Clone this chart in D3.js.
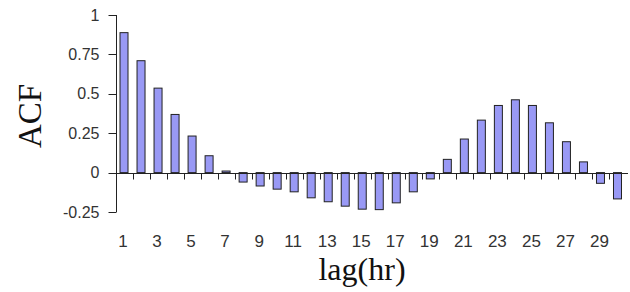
<!DOCTYPE html>
<html lang="en">
<head>
  <meta charset="UTF-8">
  <script src="https://d3js.org/d3.v7.min.js"></script>
  <style>
    body { margin: 0; background: #fff; overflow: hidden; }
    .tick-label { font-family: "Liberation Sans", Arial, sans-serif; fill: #333; }
    .title { font-family: "Liberation Serif", "Times New Roman", serif; fill: #111; }
  </style>
</head>
<body>
<script>
  // lag in hours and autocorrelation values
  const lags = d3.range(1, 31);
  const acf = [0.888, 0.71, 0.536, 0.369, 0.232, 0.107, 0.01, -0.06, -0.085, -0.105,
               -0.122, -0.16, -0.185, -0.213, -0.232, -0.235, -0.192, -0.122, -0.04, 0.084,
               0.213, 0.333, 0.426, 0.462, 0.426, 0.316, 0.196, 0.068, -0.068, -0.167];
  const yTicks = [-0.25, 0, 0.25, 0.5, 0.75, 1];
  const xLabels = lags.filter(d => d % 2 === 1);

  const width = 630, height = 292;
  const svg = d3.select("body").append("svg")
    .attr("width", width)
    .attr("height", height);

  const x = d3.scaleBand().domain(lags).range([115.5, 626]).paddingInner(0);
  const y = d3.scaleLinear().domain([-0.25, 1]).range([212, 15]);
  const barW = 8;

  // bars
  svg.append("g")
    .selectAll("rect")
    .data(lags)
    .enter().append("rect")
    .attr("x", (d, i) => x(d) + x.bandwidth() / 2 - barW / 2)
    .attr("y", (d, i) => y(Math.max(0, acf[i])))
    .attr("width", barW)
    .attr("height", (d, i) => Math.abs(y(acf[i]) - y(0)))
    .attr("fill", "#9999f5")
    .attr("stroke", "#222")
    .attr("stroke-width", 1);

  // y axis
  const yAxis = svg.append("g").attr("transform", "translate(116.5,0)");
  yAxis.append("line")
    .attr("y1", y(1)).attr("y2", y(-0.25))
    .attr("stroke", "#222");
  yAxis.selectAll(".yt")
    .data(yTicks)
    .enter().append("line")
    .attr("x1", -8).attr("x2", 0)
    .attr("y1", d => Math.round(y(d)) + 0.5)
    .attr("y2", d => Math.round(y(d)) + 0.5)
    .attr("stroke", "#222");
  yAxis.selectAll("text")
    .data(yTicks)
    .enter().append("text")
    .attr("class", "tick-label")
    .attr("x", -17)
    .attr("y", d => y(d))
    .attr("dy", "0.35em")
    .attr("text-anchor", "end")
    .style("font-size", "16px")
    .text(d => String(d));

  // x axis on the zero line
  const y0 = Math.round(y(0)) + 0.5;
  svg.append("line")
    .attr("x1", 116).attr("x2", 628)
    .attr("y1", y0).attr("y2", y0)
    .attr("stroke", "#222");
  svg.append("g")
    .selectAll("line")
    .data(lags.slice(1))
    .enter().append("line")
    .attr("x1", d => Math.round(x(d)) + 0.5)
    .attr("x2", d => Math.round(x(d)) + 0.5)
    .attr("y1", y0).attr("y2", y0 + 6)
    .attr("stroke", "#222");
  svg.append("g")
    .selectAll("text")
    .data(xLabels)
    .enter().append("text")
    .attr("class", "tick-label")
    .attr("x", d => x(d) + x.bandwidth() / 2 - 1)
    .attr("y", 247)
    .attr("text-anchor", "middle")
    .style("font-size", "17px")
    .text(d => d);

  // axis titles
  svg.append("text")
    .attr("class", "title")
    .attr("x", 362)
    .attr("y", 280)
    .attr("text-anchor", "middle")
    .style("font-size", "32px")
    .text("lag(hr)");
  svg.append("text")
    .attr("class", "title")
    .attr("transform", "translate(41,116) rotate(-90)")
    .attr("text-anchor", "middle")
    .style("font-size", "33px")
    .text("ACF");
</script>
</body>
</html>
